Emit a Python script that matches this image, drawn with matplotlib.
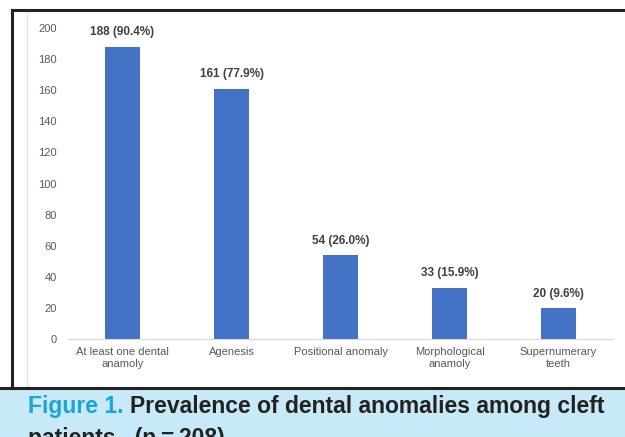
import matplotlib
matplotlib.use('Agg')
import matplotlib.pyplot as plt
from matplotlib.lines import Line2D
from matplotlib.patches import Rectangle

# data
categories = ['At least one dental\nanamoly', 'Agenesis', 'Positional anomaly',
              'Morphological\nanamoly', 'Supernumerary\nteeth']
counts = [188, 161, 54, 33, 20]
percents = [90.4, 77.9, 26.0, 15.9, 9.6]
yticks = [0, 20, 40, 60, 80, 100, 120, 140, 160, 180, 200]

plt.rcParams['font.family'] = ['Liberation Sans', 'DejaVu Sans']

fig = plt.figure(figsize=(6.25, 4.37), dpi=100)
W, H = 625, 437

# axes placed in pixel terms
ax = fig.add_axes([68 / W, (H - 339) / H, 545 / W, 311 / H])
x = range(len(categories))
ax.bar(x, counts, width=0.32, color='#4472c4')
ax.set_xlim(-0.5, len(categories) - 0.5)
ax.set_ylim(0, 200)
ax.set_yticks(yticks)
ax.set_xticks(list(x))
ax.set_xticklabels(categories, fontsize=8, color='#595959', linespacing=1.15)
ax.tick_params(axis='y', labelsize=8, labelcolor='#595959', length=0, pad=8)
ax.tick_params(axis='x', length=0, pad=6)
for s in ['top', 'right', 'left']:
    ax.spines[s].set_visible(False)
ax.spines['bottom'].set_color('#d9d9d9')

for i, (c, p) in enumerate(zip(counts, percents)):
    ax.annotate(f'{c} ({p:.1f}%)', (i, c), xytext=(0, 6), textcoords='offset points',
                ha='center', va='bottom', fontsize=8.5, fontweight='bold', color='#404040')

# frame around the chart
fig.add_artist(Line2D([12 / W, 12 / W], [1 - 10 / H, 1 - 388 / H], color='#222222', lw=2.2))
fig.add_artist(Line2D([12 / W, 1], [1 - 10 / H, 1 - 10 / H], color='#222222', lw=2.2))
fig.add_artist(Line2D([27 / W, 27 / W], [1 - 12 / H, 1 - 388 / H], color='#e0e0e0', lw=0.8))

# caption band
fig.add_artist(Rectangle((0, 0), 1, (H - 388) / H, transform=fig.transFigure,
                         facecolor='#c7e9f8', edgecolor='none', zorder=0))
fig.add_artist(Line2D([0, 1], [1 - 388 / H, 1 - 388 / H], color='#222222', lw=2.2))

cap_font = ['Liberation Sans', 'DejaVu Sans']
cap_size = 16.5
t1 = fig.text(28 / W, 1 - 407 / H, 'Figure 1.', fontsize=cap_size, fontweight='bold',
              color='#1aa3dc', family=cap_font, va='center')
fig.canvas.draw()
bb = t1.get_window_extent()
fig.text((bb.x1 + 7) / W, 1 - 407 / H, 'Prevalence of dental anomalies among cleft',
         fontsize=cap_size, fontweight='bold', color='#222222', family=cap_font, va='center')
fig.text(28 / W, 1 - 438 / H, 'patients.  (n\u2009=\u2009208)', fontsize=cap_size, fontweight='bold',
         color='#222222', family=cap_font, va='center')

fig.savefig('out.png', dpi=100)
